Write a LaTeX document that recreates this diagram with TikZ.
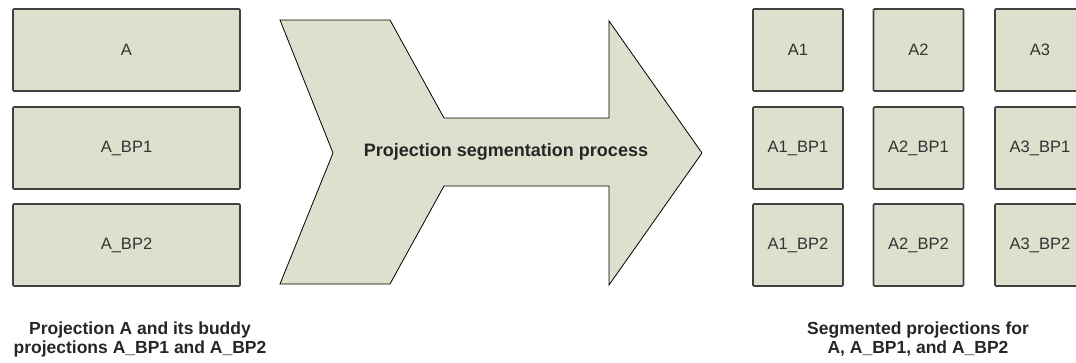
\documentclass[tikz,border=0pt]{standalone}
\usepackage{fontspec}
\setmainfont{Liberation Sans}
\definecolor{boxfill}{RGB}{220,224,204}
\definecolor{boxline}{RGB}{64,64,64}
\tikzset{
  proj/.style={draw=boxline, line width=1.6pt, fill=boxfill, rounded corners=1pt,
    minimum height=82pt, inner sep=0pt, font=\fontsize{16.5}{19}\selectfont, text=black!80},
  wide/.style={proj, minimum width=227pt},
  seg/.style={proj, minimum width=90pt},
  caption/.style={align=center, font=\fontsize{17.5}{19}\selectfont\bfseries, text=black!85}
}
\begin{document}
\begin{tikzpicture}[x=1pt,y=-1pt]
    \useasboundingbox (0,0) rectangle (1076,362);
    \clip (0,0) rectangle (1076,362);
    \node [wide] (a) at (126.5,50) {A};
    \node [wide] (abp1) at (126.5,148) {A\_BP1};
    \node [wide] (abp2) at (126.5,245) {A\_BP2};
    \draw [fill=boxfill, line width=0.8pt, line join=miter]
      (280,20) -- (390,20) -- (444,118) -- (609,118) -- (609,21) -- (702,153)
      -- (609,285) -- (609,186) -- (444,186) -- (390,284) -- (280,284) -- (333,153) -- cycle;
    \node [font=\fontsize{18}{20}\selectfont\bfseries, text=black!85] (proc) at (506,152) {Projection segmentation process};
    \node [seg] (a1) at (798,50) {A1};
    \node [seg] (a2) at (918.5,50) {A2};
    \node [seg] (a3) at (1040,50) {A3};
    \node [seg] (a1bp1) at (798,148) {A1\_BP1};
    \node [seg] (a2bp1) at (918.5,148) {A2\_BP1};
    \node [seg] (a3bp1) at (1040,148) {A3\_BP1};
    \node [seg] (a1bp2) at (798,245) {A1\_BP2};
    \node [seg] (a2bp2) at (918.5,245) {A2\_BP2};
    \node [seg] (a3bp2) at (1040,245) {A3\_BP2};
    \node [caption] (inlabel) at (140,339) {Projection A and its buddy\\projections A\_BP1 and A\_BP2};
    \node [caption] (outlabel) at (918,339) {Segmented projections for\\A, A\_BP1, and A\_BP2};
\end{tikzpicture}
\end{document}
